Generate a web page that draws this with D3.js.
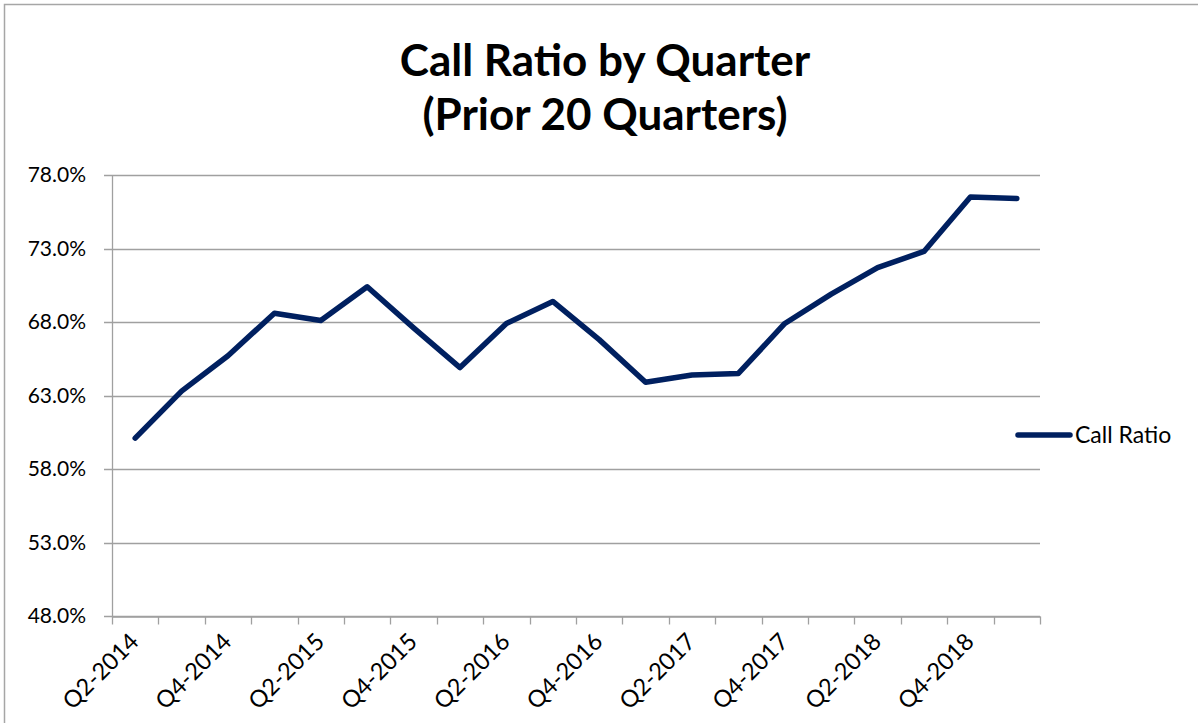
<!DOCTYPE html>
<html>
<head>
<meta charset="utf-8">
<script src="https://cdn.jsdelivr.net/npm/d3@7"></script>
<style>
  body { margin: 0; background: #fff; }
  text { font-family: Lato, "Open Sans", sans-serif; fill: #000; }
</style>
</head>
<body>
<div id="chart"></div>
<script>
// chart data
var quarters = ["Q2-2014","Q3-2014","Q4-2014","Q1-2015","Q2-2015","Q3-2015","Q4-2015","Q1-2016",
                "Q2-2016","Q3-2016","Q4-2016","Q1-2017","Q2-2017","Q3-2017","Q4-2017","Q1-2018",
                "Q2-2018","Q3-2018","Q4-2018","Q1-2019"];
var callRatio = [60.1, 63.3, 65.7, 68.6, 68.1, 70.4, 67.6, 64.9,
                 67.9, 69.4, 66.8, 63.9, 64.4, 64.5, 67.9, 69.9,
                 71.7, 72.8, 76.5, 76.4];
var yTicks = [48, 53, 58, 63, 68, 73, 78];
var titleLines = ["Call Ratio by Quarter", "(Prior 20 Quarters)"];
var seriesName = "Call Ratio";

var width = 1198,
    height = 723,
    margin = {top: 175, bottom: 107, left: 112, right: 158};

var navy = "#002060";

var svg = d3.select("#chart").append("svg")
  .attr("width", width)
  .attr("height", height);

// outer frame
svg.append("rect")
  .attr("x", 4.5).attr("y", 4.5)
  .attr("width", width + 10).attr("height", height + 10)
  .style("fill", "none")
  .style("stroke", "#a6a6a6")
  .style("stroke-width", 1.5);

var x = d3.scaleBand()
  .domain(quarters)
  .range([margin.left, width - margin.right]);

var y = d3.scaleLinear()
  .domain([48, 78])
  .range([height - margin.bottom, margin.top]);

// gridlines
svg.append("g")
  .selectAll("line")
  .data(yTicks)
  .enter()
  .append("line")
  .attr("x1", margin.left - 8)
  .attr("x2", width - margin.right)
  .attr("y1", function(d){ return Math.round(y(d)) + 0.5; })
  .attr("y2", function(d){ return Math.round(y(d)) + 0.5; })
  .style("stroke", "#a0a0a0")
  .style("stroke-width", 1.3);

// y labels
svg.append("g")
  .selectAll("text")
  .data(yTicks)
  .enter()
  .append("text")
  .attr("x", 86)
  .attr("y", function(d){ return y(d); })
  .attr("dy", "0.35em")
  .style("text-anchor", "end")
  .style("font-size", "21px")
  .text(function(d){ return d.toFixed(1) + "%"; });

// y axis line
svg.append("line")
  .attr("x1", margin.left + 0.5).attr("x2", margin.left + 0.5)
  .attr("y1", y(78)).attr("y2", y(48))
  .style("stroke", "#a0a0a0")
  .style("stroke-width", 1.3);

// x axis: ticks on the category boundaries
var xAxis = d3.axisBottom(x).tickSize(0).tickFormat("");
var gx = svg.append("g")
  .attr("transform", "translate(0," + (Math.round(y(48)) + 0.5) + ")")
  .call(xAxis);
gx.select(".domain").style("stroke", "#a0a0a0").style("stroke-width", 1.3);

var bounds = quarters.map(function(q){ return x(q); }).concat([x.range()[1]]);
gx.selectAll(".bound")
  .data(bounds)
  .enter()
  .append("line")
  .attr("class", "bound")
  .attr("x1", function(d){ return Math.round(d) + 0.5; })
  .attr("x2", function(d){ return Math.round(d) + 0.5; })
  .attr("y1", 0).attr("y2", 8)
  .style("stroke", "#a0a0a0")
  .style("stroke-width", 1.3);

// x labels, every other quarter, rotated
svg.append("g")
  .selectAll("text")
  .data(quarters.filter(function(d, i){ return i % 2 === 0; }))
  .enter()
  .append("text")
  .attr("transform", function(d){
    return "translate(" + (x(d) + x.bandwidth() / 2 + 5) + "," + (y(48) + 27) + ") rotate(-45)";
  })
  .style("text-anchor", "end")
  .style("font-size", "23.5px")
  .text(function(d){ return d; });

// line
var line = d3.line()
  .x(function(d, i){ return x(quarters[i]) + x.bandwidth() / 2; })
  .y(function(d){ return y(d); });

svg.append("path")
  .datum(callRatio)
  .attr("d", line)
  .style("fill", "none")
  .style("stroke", navy)
  .style("stroke-width", 5.5)
  .style("stroke-linejoin", "round")
  .style("stroke-linecap", "round");

// title
svg.append("g")
  .selectAll("text")
  .data(titleLines)
  .enter()
  .append("text")
  .attr("x", 605)
  .attr("y", function(d, i){ return 76 + i * 54; })
  .style("text-anchor", "middle")
  .style("font-size", "44px")
  .style("font-weight", "bold")
  .text(function(d){ return d; });

// legend
var legend = svg.append("g")
  .attr("transform", "translate(1018,435)");
legend.append("line")
  .attr("x1", 0).attr("x2", 52)
  .style("stroke", navy)
  .style("stroke-width", 5.5)
  .style("stroke-linecap", "round");
legend.append("text")
  .attr("x", 57)
  .attr("dy", "0.35em")
  .style("font-size", "23px")
  .text(seriesName);
</script>
</body>
</html>
